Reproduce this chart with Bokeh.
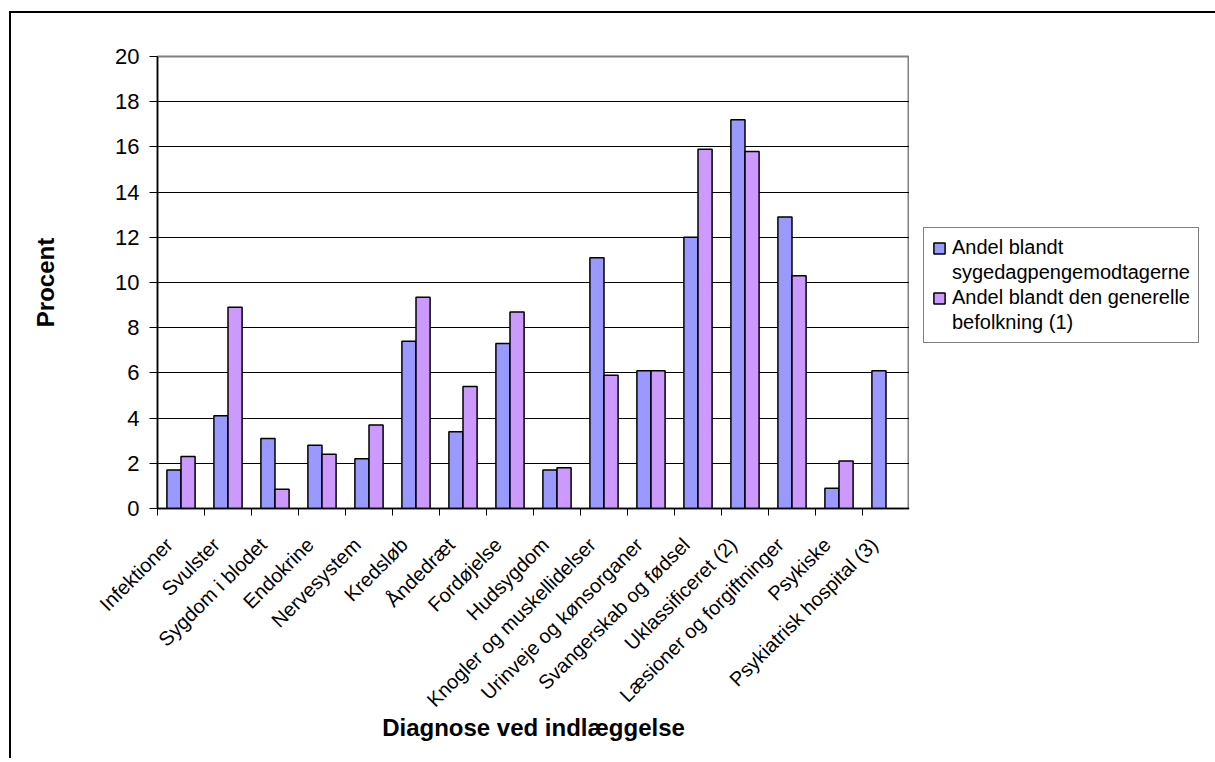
import math
from bokeh.plotting import figure
from bokeh.layouts import row
from bokeh.models import Range1d, FixedTicker, Legend, LegendItem, ColumnDataSource
from bokeh.transform import dodge
from bokeh.embed import file_html
from bokeh.resources import INLINE

categories = [
    "Infektioner", "Svulster", "Sygdom i blodet", "Endokrine", "Nervesystem",
    "Kredsløb", "Åndedræt", "Fordøjelse", "Hudsygdom", "Knogler og muskellidelser",
    "Urinveje og kønsorganer", "Svangerskab og fødsel", "Uklassificeret (2)",
    "Læsioner og forgiftninger", "Psykiske", "Psykiatrisk hospital (3)",
]
andel_sygedagpenge = [1.7, 4.1, 3.1, 2.8, 2.2, 7.4, 3.4, 7.3, 1.7, 11.1, 6.1, 12.0, 17.2, 12.9, 0.9, 6.1]
andel_befolkning = [2.3, 8.9, 0.85, 2.4, 3.7, 9.35, 5.4, 8.7, 1.8, 5.9, 6.1, 15.9, 15.8, 10.3, 2.1, float("nan")]
series_label_lines = [["Andel blandt", "sygedagpengemodtagerne"],
                      ["Andel blandt den generelle", "befolkning (1)"]]
series_colors = ["#9999FF", "#CC99FF"]
y_ticks = [0, 2, 4, 6, 8, 10, 12, 14, 16, 18, 20]
x_title = "Diagnose ved indlæggelse"
y_title = "Procent"

FONT = "Liberation Sans"
n = len(categories)
centers = [i + 0.5 for i in range(n)]
boundaries = [float(i) for i in range(n + 1)]
PAD = "\u00a0\u00a0\u00a0"  # keeps rotated labels slightly down-left of the tick, as in the reference

source = ColumnDataSource(dict(
    xc=centers,
    s1=andel_sygedagpenge,
    s2=andel_befolkning,
))

W, H = 1204, 745
FL, FT, FW, FH = 146, 43, 752, 452
W1 = FL + FW

p = figure(
    width=W1, height=H,
    x_range=Range1d(0, n), y_range=Range1d(0, 20),
    output_backend="svg", toolbar_location=None,
    min_border_left=FL, min_border_top=FT,
    min_border_right=0, min_border_bottom=H - FT - FH,
    background_fill_color="white", border_fill_color="white",
)

bar_style = [dict(fill_color=series_colors[0], line_color="black", line_width=1.5),
             dict(fill_color=series_colors[1], line_color="black", line_width=1.5)]

p.vbar(x=dodge("xc", -0.15, range=p.x_range), top="s1", width=0.3, source=source, **bar_style[0])
p.vbar(x=dodge("xc", 0.15, range=p.x_range), top="s2", width=0.3, source=source, **bar_style[1])

# frame
p.outline_line_color = "#808080"
p.outline_line_width = 2

# grid
p.xgrid.visible = False
p.ygrid.ticker = FixedTicker(ticks=y_ticks[1:-1])
p.ygrid.grid_line_color = "black"
p.ygrid.grid_line_width = 1
p.ygrid.level = "underlay"

# y axis
ya = p.yaxis[0]
ya.ticker = FixedTicker(ticks=y_ticks)
ya.axis_line_color = "black"
ya.axis_line_width = 1.5
ya.major_tick_line_color = "black"
ya.major_tick_in = 0
ya.major_tick_out = 8
ya.minor_tick_line_color = None
ya.major_label_text_font = FONT
ya.major_label_text_font_size = "22px"
ya.major_label_text_color = "black"
ya.major_label_standoff = 10
ya.axis_label = y_title
ya.axis_label_text_font = FONT
ya.axis_label_text_font_size = "24px"
ya.axis_label_text_font_style = "bold"
ya.axis_label_text_color = "black"
ya.axis_label_standoff = 53

# x axis
xa = p.xaxis[0]
xa.ticker = FixedTicker(ticks=centers, minor_ticks=boundaries)
xa.major_label_overrides = {c: lab + PAD for c, lab in zip(centers, categories)}
xa.axis_line_color = "black"
xa.axis_line_width = 1.5
xa.major_tick_line_color = None
xa.minor_tick_line_color = "black"
xa.minor_tick_in = 0
xa.minor_tick_out = 7
xa.major_label_orientation = math.pi / 4
xa.major_label_text_font = FONT
xa.major_label_text_font_size = "20px"
xa.major_label_text_color = "black"
xa.major_label_standoff = 14
xa.axis_label = x_title
xa.axis_label_text_font = FONT
xa.axis_label_text_font_size = "24px"
xa.axis_label_text_font_style = "bold"
xa.axis_label_text_color = "black"
xa.axis_label_standoff = -8

# legend panel (separate figure to the right of the plot area; its frame aligns with the plot's)
W2 = W - W1
q = figure(
    width=W2, height=H, x_range=Range1d(0, 1), y_range=Range1d(0, 1),
    output_backend="svg", toolbar_location=None, min_border=0,
    background_fill_color="white", border_fill_color="white",
)
q.axis.visible = False
q.grid.visible = False
q.outline_line_color = None
# swatch renderers: a single point placed outside the visible range, used only for the legend keys
k1 = q.vbar(x=[-10], top=[0], width=0.3, **bar_style[0])
k2 = q.vbar(x=[-10], top=[0], width=0.3, **bar_style[1])
blank = q.vbar(x=[-10], top=[0], width=0.3, fill_alpha=0, line_alpha=0)

legend = Legend(
    items=[LegendItem(label=series_label_lines[0][0], renderers=[k1]),
           LegendItem(label=series_label_lines[0][1], renderers=[blank]),
           LegendItem(label=series_label_lines[1][0], renderers=[k2]),
           LegendItem(label=series_label_lines[1][1], renderers=[blank])],
    location=(14, 165),
    label_text_font=FONT, label_text_font_size="20px", label_text_color="black",
    label_height=22,
    glyph_width=14, glyph_height=14, label_standoff=6,
    padding=8, spacing=2, margin=0,
    border_line_color="black", border_line_width=1.2,
    background_fill_color="white", background_fill_alpha=1.0,
)
q.add_layout(legend, "center")

layout = row(p, q, spacing=0,
             styles={"border-top": "2px solid black", "border-left": "2px solid black",
                     "margin-top": "11px", "margin-left": "9px"})

open("out.html", "w").write(file_html(layout, INLINE))
